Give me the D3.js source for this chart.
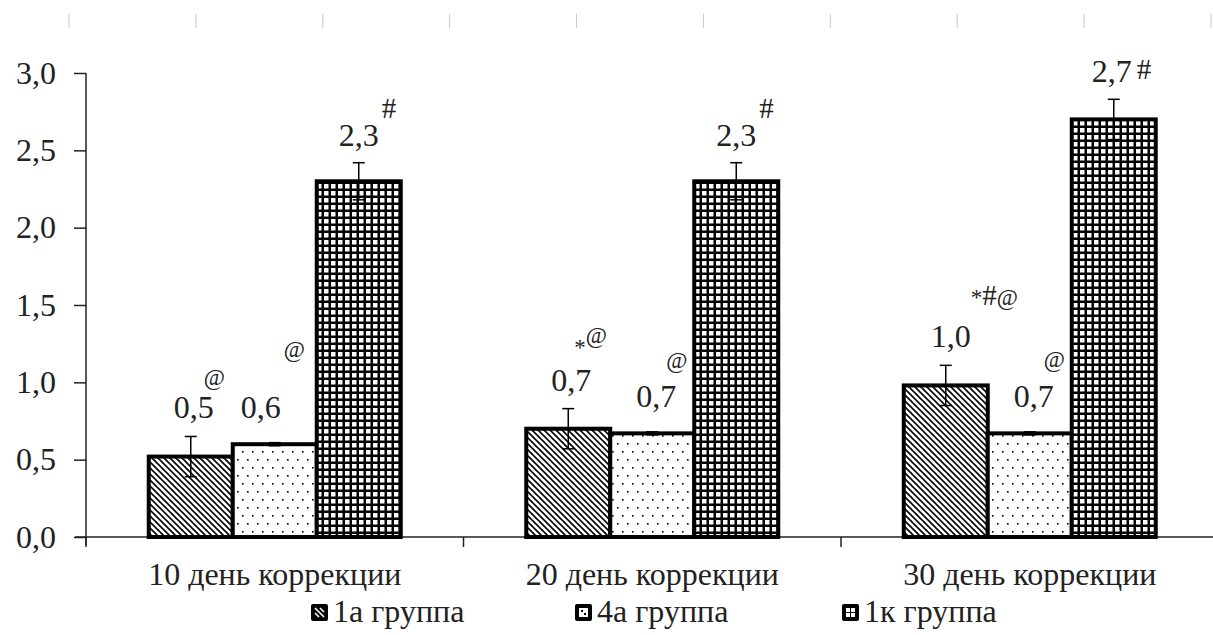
<!DOCTYPE html>
<html>
<head>
<meta charset="utf-8">
<script src="https://cdn.jsdelivr.net/npm/d3@7"></script>
<style>
  body { margin: 0; background: #fff; }
  text { font-family: "Liberation Serif", "DejaVu Serif", "Times New Roman", Times, serif; }
</style>
</head>
<body>
<div id="chart"></div>
<script>
/*DATA*/
const categories = ['10 день коррекции', '20 день коррекции', '30 день коррекции'];
const groups = ['1а группа', '4а группа', '1к группа'];
const values1a = [0.52, 0.70, 0.98];
const values4a = [0.60, 0.67, 0.67];
const values1k = [2.30, 2.30, 2.70];
const err1a = [0.13, 0.13, 0.13];
const err4a = [0.01, 0.01, 0.01];
const err1k = [0.12, 0.12, 0.13];
const labels1a = ['0,5', '0,7', '1,0'];
const labels4a = ['0,6', '0,7', '0,7'];
const labels1k = ['2,3', '2,3', '2,7'];
const marks1a = ['@', '*@', '*#@'];
const marks4a = ['@', '@', '@'];
const marks1k = ['#', '#', '#'];
const yTicks = [0, 0.5, 1.0, 1.5, 2.0, 2.5, 3.0];
/////////////////////////////////////////////////////////////////////////////

//STYLING
const width = 1213, height = 635;
const margin = { left: 86, top: 73, bottom: 537 };
const bandRight = 1218.5;
const groupWidth = 252;
const labelFont = 32, markFont = 23, hashFont = 29;
// label gap above the error bar, per series
const labelGap = [18, 25, 17];
// horizontal nudge of value labels from bar centre
const labelNudge = [[3, -14, 0], [3, 4, 0], [5, 4, -2]];
// where the significance marks sit, relative to the value label [dx from label end, dy above baseline]
const markOffset = [
	[[-10, 33], [3, 61], [3, 28]],
	[[-17, 36], [-10, 39], [3, 28]],
	[[0, 42], [-10, 40], [5, 3]]
];

const series = groups.map((g, i) => ({
	name: g,
	values: [values1a, values4a, values1k][i],
	errs: [err1a, err4a, err1k][i],
	labels: [labels1a, labels4a, labels1k][i],
	marks: [marks1a, marks4a, marks1k][i],
	pattern: ['hatch', 'dots', 'grid'][i]
}));

const svg = d3.select('#chart').append('svg')
	.attr('width', width)
	.attr('height', height)
	.style('display', 'block');

//patterns
const defs = svg.append('defs');
const hatch = defs.append('pattern').attr('id', 'hatch')
	.attr('patternUnits', 'userSpaceOnUse').attr('width', 6).attr('height', 6);
hatch.append('rect').attr('width', 6).attr('height', 6).attr('fill', '#fff');
hatch.append('path').attr('d', 'M0,0L6,6M-3,3L3,9M3,-3L9,3')
	.attr('stroke', '#000').attr('stroke-width', 1.6);

const dots = defs.append('pattern').attr('id', 'dots')
	.attr('patternUnits', 'userSpaceOnUse').attr('width', 10).attr('height', 16);
dots.append('rect').attr('width', 10).attr('height', 16).attr('fill', '#fff');
dots.append('rect').attr('x', 2).attr('y', 3).attr('width', 1.6).attr('height', 1.6).attr('fill', '#000');
dots.append('rect').attr('x', 7).attr('y', 11).attr('width', 1.6).attr('height', 1.6).attr('fill', '#000');

const grid = defs.append('pattern').attr('id', 'grid')
	.attr('patternUnits', 'userSpaceOnUse').attr('width', 7).attr('height', 7);
grid.append('rect').attr('width', 7).attr('height', 7).attr('fill', '#000');
grid.append('rect').attr('x', 2).attr('y', 2).attr('width', 4.5).attr('height', 4.5).attr('fill', '#fff');

//SCALES
const x0 = d3.scaleBand().domain(categories).range([margin.left, bandRight]).padding(0);
const x1 = d3.scaleBand().domain(groups).range([0, groupWidth]);
const groupOffset = (x0.bandwidth() - groupWidth) / 2;
const y = d3.scaleLinear().domain([0, 3]).range([margin.bottom, margin.top]);

//faint ruler at the top
const ruler = d3.scaleLinear().domain([0, 9]).range([69, 1211]);
svg.append('g').selectAll('line').data(ruler.ticks(10)).join('line')
	.attr('x1', d => ruler(d)).attr('x2', d => ruler(d))
	.attr('y1', 14).attr('y2', 28)
	.attr('stroke', '#c8c8c8').attr('stroke-width', 1);

//Y AXIS
const yAxis = svg.append('g')
	.attr('transform', `translate(${margin.left},0)`)
	.call(d3.axisLeft(y).tickValues(yTicks).tickSize(12).tickPadding(18)
		.tickFormat(d => d3.format('.1f')(d).replace('.', ',')));
yAxis.select('.domain').attr('d', `M0,${margin.top}V${margin.bottom + 8}`)
	.attr('stroke', '#222').attr('stroke-width', 1.5);
yAxis.selectAll('.tick line').attr('stroke', '#222').attr('stroke-width', 1.5);
yAxis.selectAll('.tick text').attr('font-size', labelFont).attr('fill', '#222');

//X AXIS
svg.append('line')
	.attr('x1', margin.left - 11).attr('x2', width)
	.attr('y1', margin.bottom).attr('y2', margin.bottom)
	.attr('stroke', '#222').attr('stroke-width', 1.5);
svg.append('g').selectAll('line').data(categories).join('line')
	.attr('x1', d => x0(d)).attr('x2', d => x0(d))
	.attr('y1', margin.bottom).attr('y2', margin.bottom + 10)
	.attr('stroke', '#222').attr('stroke-width', 1.5);
svg.append('g').selectAll('text').data(categories).join('text')
	.attr('x', d => x0(d) + x0.bandwidth() / 2)
	.attr('y', 585)
	.attr('text-anchor', 'middle')
	.attr('font-size', labelFont).attr('fill', '#222')
	.text(d => d);

//BARS
const cells = [];
categories.forEach((c, ci) => {
	series.forEach((s, si) => {
		cells.push({ ci, si, cat: c, s, v: s.values[ci], e: s.errs[ci] });
	});
});
const cx = d => x0(d.cat) + groupOffset + x1(d.s.name) + x1.bandwidth() / 2;

const bars = svg.append('g');
bars.selectAll('rect').data(cells).join('rect')
	.attr('x', d => x0(d.cat) + groupOffset + x1(d.s.name))
	.attr('y', d => y(d.v))
	.attr('width', x1.bandwidth())
	.attr('height', d => y(0) - y(d.v))
	.attr('fill', d => `url(#${d.s.pattern})`)
	.attr('stroke', '#000').attr('stroke-width', 4);

//error bars
const errs = svg.append('g').attr('stroke', '#000').attr('stroke-width', 1.5);
cells.forEach(d => {
	const xc = cx(d), top = y(d.v + d.e), bot = y(d.v - d.e);
	errs.append('line').attr('x1', xc).attr('x2', xc).attr('y1', top).attr('y2', bot);
	errs.append('line').attr('x1', xc - 6).attr('x2', xc + 6).attr('y1', top).attr('y2', top);
	errs.append('line').attr('x1', xc - 6).attr('x2', xc + 6).attr('y1', bot).attr('y2', bot);
});

//value labels and significance marks
const labelsG = svg.append('g').attr('fill', '#222');
cells.forEach(d => {
	const xc = cx(d) + labelNudge[d.ci][d.si];
	const base = y(d.v + d.e) - labelGap[d.si];
	const t = labelsG.append('text')
		.attr('x', xc).attr('y', base)
		.attr('text-anchor', 'middle')
		.attr('font-size', labelFont)
		.text(d.s.labels[d.ci]);
	const right = xc + t.node().getComputedTextLength() / 2;
	const [dx, dy] = markOffset[d.ci][d.si];
	const mark = d.s.marks[d.ci];
	const m = labelsG.append('text')
		.attr('x', right + dx).attr('y', base - dy)
		.attr('font-size', markFont);
	// the star sits lower than the "@" when it stands alone with it
	Array.from(mark).forEach((ch, k) => {
		const sp = m.append('tspan').text(ch);
		if (ch === '#') sp.attr('font-size', hashFont);
		if (mark === '*@' && k === 1) sp.attr('dy', -12);
	});
});

//LEGEND
const legend = svg.append('g');
const legendX = [311, 575, 842];
groups.forEach((g, i) => {
	const item = legend.append('g').attr('transform', `translate(${legendX[i]},604)`);
	item.append('rect').attr('width', 17).attr('height', 17).attr('rx', 2).attr('fill', '#000');
	if (i === 0) {
		item.append('path').attr('d', 'M4,4L13,13M4,9L8,13M9,4L13,8')
			.attr('stroke', '#fff').attr('stroke-width', 1.6);
	} else if (i === 1) {
		item.append('rect').attr('x', 4).attr('y', 4).attr('width', 9).attr('height', 9).attr('fill', '#fff');
		item.append('rect').attr('x', 6).attr('y', 6).attr('width', 2).attr('height', 2).attr('fill', '#000');
		item.append('rect').attr('x', 9).attr('y', 9).attr('width', 2).attr('height', 2).attr('fill', '#000');
	} else {
		[[4, 4], [9, 4], [4, 9], [9, 9]].forEach(([a, b]) => item.append('rect')
			.attr('x', a).attr('y', b).attr('width', 4).attr('height', 4).attr('fill', '#fff'));
	}
	item.append('text').attr('x', 22).attr('y', 18)
		.attr('font-size', labelFont).attr('fill', '#222')
		.text(g);
});
</script>
</body>
</html>
